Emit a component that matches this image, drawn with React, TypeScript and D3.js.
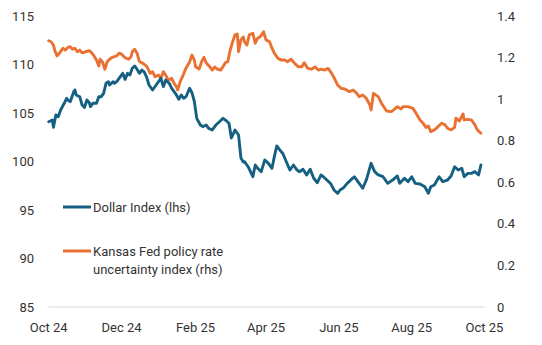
import React from "react";
import * as d3 from "d3";

// Days since 2024-10-01 and values
const dollarDays = [0,3,4,6,8,10,13,15,16,18,21,22,23,26,28,30,32,34,35,37,40,42,44,46,48,50,51,54,55,57,60,62,64,66,68,70,72,74,76,78,80,82,84,87,90,92,94,96,98,101,103,105,107,109,111,113,115,118,120,122,124,127,129,132,134,137,140,143,146,148,151,153,156,159,161,163,164,167,171,173,175,178,181,184,187,189,191,194,196,199,202,205,208,210,213,216,219,222,225,228,230,233,236,239,242,244,247,250,253,256,259,263,266,270,273,276,280,284,288,292,294,298,301,304,307,311,315,318,320,323,327,330,334,337,340,343,346,348,351,354,357,360,362];
const dollarValues = [104.1,104.28,103.53,104.79,104.62,105.31,106.0,106.52,106.34,106.17,107.2,107.37,106.86,106.68,105.82,105.58,106.34,106.06,105.65,106.0,106.0,106.68,106.68,107.03,108.06,108.23,107.89,108.23,108.06,108.23,108.74,109.09,108.47,109.09,108.92,109.61,109.85,109.51,109.09,109.43,109.23,108.71,107.89,107.37,107.89,108.23,108.58,107.71,108.4,108.06,107.55,107.2,106.86,106.41,106.86,106.52,106.68,107.55,107.09,106.17,104.45,103.76,103.59,103.76,103.42,103.25,103.76,104.1,104.45,104.28,103.94,102.42,103.25,102.73,100.36,99.95,99.98,99.46,98.43,99.64,99.3,98.95,100.16,99.81,99.3,100.5,101.6,101.11,100.85,99.98,99.12,99.64,99.12,98.95,99.2,98.61,99.2,98.27,97.81,98.61,98.43,98.09,97.75,97.06,96.72,97.06,97.3,97.75,98.1,98.43,97.92,97.24,98.09,99.81,98.95,98.61,98.43,97.75,98.09,98.51,97.75,98.27,97.92,98.43,97.75,97.68,97.4,96.72,97.4,97.58,98.43,97.92,98.09,98.51,99.46,99.12,99.3,98.43,98.78,98.78,98.95,98.61,99.64];

const kcDays = [0,2,4,5,7,9,12,14,16,18,20,22,24,26,28,31,34,36,38,40,42,43,45,47,49,51,53,55,57,59,61,63,65,67,69,70,72,74,76,79,82,85,87,89,92,94,96,98,100,103,105,107,108,110,113,115,118,120,122,123,126,128,130,132,135,137,139,141,144,146,148,150,152,154,156,158,159,161,163,164,166,168,171,173,175,177,180,182,185,187,189,192,195,198,200,203,206,209,212,214,217,220,223,226,228,231,234,237,240,242,245,248,252,255,258,260,263,266,269,270,272,276,279,283,287,290,292,295,297,301,305,308,311,313,316,318,320,323,326,329,332,334,337,340,341,344,347,348,351,354,357,359,362];
const kcValues = [1.281,1.276,1.26,1.236,1.208,1.221,1.245,1.236,1.249,1.252,1.24,1.245,1.228,1.236,1.223,1.228,1.233,1.223,1.208,1.188,1.159,1.192,1.18,1.144,1.18,1.192,1.201,1.204,1.208,1.221,1.217,1.204,1.196,1.192,1.204,1.228,1.24,1.221,1.18,1.172,1.159,1.124,1.132,1.108,1.116,1.1,1.132,1.116,1.092,1.1,1.076,1.06,1.044,1.082,1.121,1.15,1.179,1.212,1.188,1.156,1.145,1.179,1.201,1.174,1.155,1.14,1.155,1.145,1.14,1.156,1.176,1.18,1.236,1.275,1.309,1.313,1.228,1.285,1.299,1.276,1.26,1.309,1.317,1.269,1.293,1.3,1.324,1.285,1.276,1.245,1.221,1.196,1.188,1.188,1.18,1.192,1.172,1.156,1.156,1.175,1.148,1.144,1.155,1.14,1.144,1.14,1.148,1.124,1.092,1.068,1.052,1.049,1.036,1.044,1.028,1.012,1.02,1.004,0.972,0.948,1.028,1.012,0.977,0.943,0.94,0.953,0.964,0.953,0.964,0.964,0.956,0.929,0.9,0.888,0.864,0.871,0.843,0.852,0.867,0.884,0.876,0.86,0.852,0.864,0.908,0.895,0.929,0.9,0.903,0.9,0.876,0.852,0.836];

const leftTicks = [85, 90, 95, 100, 105, 110, 115];
const rightTicks = [0, 0.2, 0.4, 0.6, 0.8, 1, 1.2, 1.4];
const xTickLabels = ["Oct 24", "Dec 24", "Feb 25", "Apr 25", "Jun 25", "Aug 25", "Oct 25"];
const xTickDates = ["2024-10-01", "2024-12-01", "2025-02-01", "2025-04-01", "2025-06-01", "2025-08-01", "2025-10-01"];
const seriesNames = ["Dollar Index (lhs)", "Kansas Fed policy rate", "uncertainty index (rhs)"];

const BLUE = "#156082";
const ORANGE = "#E97132";
const TEXT = "#333333";
const FONT = "Roboto, 'Noto Sans', sans-serif";

const start = new Date(2024, 9, 1);
const dayToDate = (d: number) => new Date(start.getTime() + d * 86400000);

export default function App() {
  const x = d3.scaleTime().domain([new Date(2024, 9, 1), new Date(2025, 9, 1)]).range([48.7, 484.5]);
  const yL = d3.scaleLinear().domain([85, 115]).range([307, 16]);
  const yR = d3.scaleLinear().domain([0, 1.4]).range([307, 16]);

  const dollarPts = dollarDays.map((d, i) => [x(dayToDate(d)), yL(dollarValues[i])] as [number, number]);
  const kcPts = kcDays.map((d, i) => [x(dayToDate(d)), yR(kcValues[i])] as [number, number]);
  const line = d3.line<[number, number]>().x((p) => p[0]).y((p) => p[1]);

  return (
    <svg width={542} height={345} style={{ position: "absolute", left: 0, top: 0, background: "#fff" }} fontFamily={FONT}>
      <line x1={x.range()[0]} x2={x.range()[1]} y1={yL(85)} y2={yL(85)} stroke="#d9d9d9" strokeWidth={1} />
      {leftTicks.map((t) => (
        <text key={"l" + t} x={34} y={yL(t)} dy="0.35em" textAnchor="end" fontSize={13} fill={TEXT}>
          {t}
        </text>
      ))}
      {rightTicks.map((t) => (
        <text key={"r" + t} x={497} y={yR(t)} dy="0.35em" textAnchor="start" fontSize={13} fill={TEXT}>
          {d3.format("~g")(t)}
        </text>
      ))}
      {xTickLabels.map((lab, i) => (
        <text key={lab} x={x(new Date(xTickDates[i] + "T00:00:00"))} y={327} dy="0.35em" textAnchor="middle" fontSize={13} fill={TEXT}>
          {lab}
        </text>
      ))}
      <path d={line(kcPts) || ""} fill="none" stroke={ORANGE} strokeWidth={2.9} strokeLinejoin="round" strokeLinecap="round" />
      <path d={line(dollarPts) || ""} fill="none" stroke={BLUE} strokeWidth={2.9} strokeLinejoin="round" strokeLinecap="round" />
      <line x1={63} x2={91} y1={207} y2={207} stroke={BLUE} strokeWidth={3} />
      <text x={93} y={207} dy="0.35em" fontSize={13} fill={TEXT}>{seriesNames[0]}</text>
      <line x1={63} x2={91} y1={251} y2={251} stroke={ORANGE} strokeWidth={3} />
      <text x={93} y={251} dy="0.35em" fontSize={13} fill={TEXT}>{seriesNames[1]}</text>
      <text x={93} y={269} dy="0.35em" fontSize={13} fill={TEXT}>{seriesNames[2]}</text>
    </svg>
  );
}
